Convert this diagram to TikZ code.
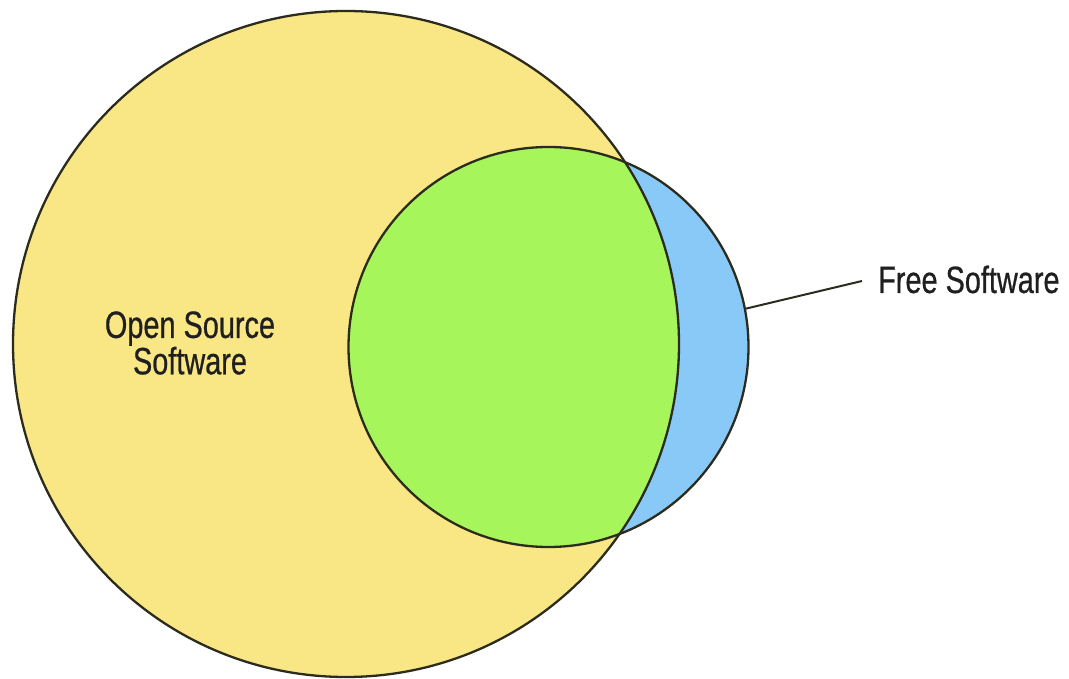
\documentclass[tikz,border=0pt]{standalone}
\usepackage{fontspec}
\setmainfont{Liberation Sans}[FakeStretch=0.76,FakeBold=0.6]
\definecolor{ossyellow}{HTML}{F9E684}
\definecolor{fsblue}{HTML}{88C9F8}
\definecolor{bothgreen}{HTML}{A6F55A}
\definecolor{edge}{HTML}{2B2B1E}
\tikzset{
  venn/.style={circle, inner sep=0pt, draw=edge, line width=2.3pt},
  label/.style={font=\fontsize{38}{35}\selectfont, text=black!88, inner sep=0pt},
}
\begin{document}
\begin{tikzpicture}[x=1pt,y=1pt]
\useasboundingbox (0,0) rectangle (1069,678);
% fills
\fill[ossyellow] (346,334) circle (333);
\fill[fsblue] (548.5,331) circle (200);
\begin{scope}
  \clip (346,334) circle (333);
  \fill[bothgreen] (548.5,331) circle (200);
\end{scope}
% outlines as named nodes
\node[venn, minimum size=666pt] (oss) at (346,334) {};
\node[venn, minimum size=400pt] (fs) at (548.5,331) {};
% labels
\node[label, align=center, anchor=center] (osslabel) at (190,335) {Open Source\\Software};
\coordinate (fsend) at (862,397);
\node[label, anchor=base west] (fslabel) at (878,385) {Free Software};
\draw[edge, line width=2pt] (fs.11.3) -- (fsend);
\end{tikzpicture}
\end{document}
